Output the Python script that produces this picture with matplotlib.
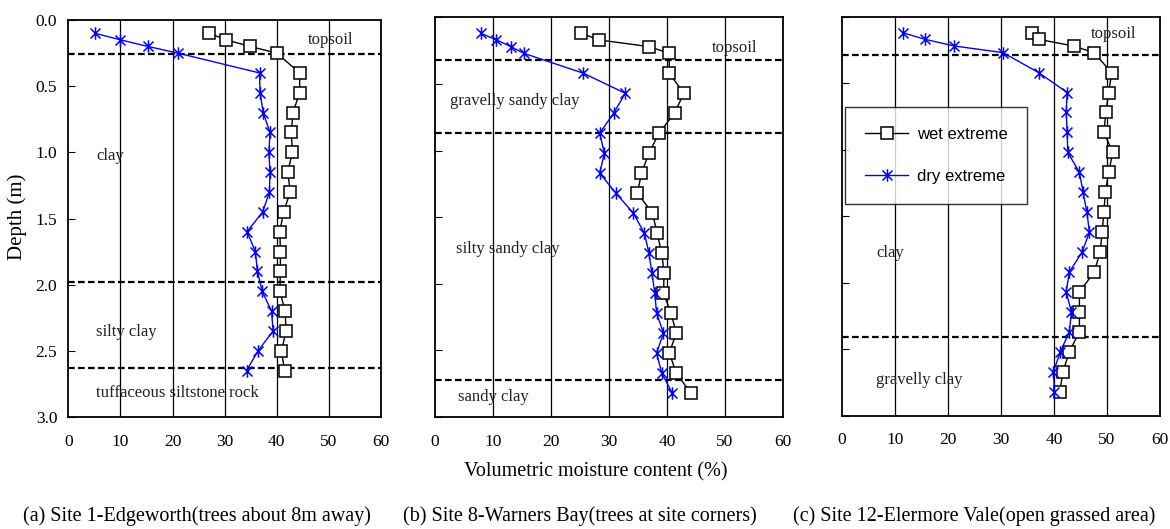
import matplotlib
matplotlib.use('Agg')
import matplotlib.pyplot as plt
from matplotlib.path import Path

plt.rcParams['font.family'] = ['Liberation Serif', 'DejaVu Serif']

# depths (m) and moisture content (%)
depth1 = [0.10, 0.15, 0.20, 0.25, 0.40, 0.55, 0.70, 0.85, 1.00, 1.15,
          1.30, 1.45, 1.60, 1.75, 1.90, 2.05, 2.20, 2.35, 2.50, 2.65]
wet1 = [27.0, 30.3, 34.9, 40.0, 44.4, 44.4, 43.1, 42.8, 43.0, 42.1,
        42.6, 41.3, 40.6, 40.7, 40.7, 40.6, 41.6, 41.8, 40.9, 41.5]
dry1 = [5.1, 10.0, 15.3, 21.0, 36.7, 36.8, 37.4, 38.7, 38.5, 38.7,
        38.6, 37.3, 34.3, 35.9, 36.3, 37.2, 39.0, 39.3, 36.4, 34.2]

depth2 = [0.12, 0.17, 0.22, 0.27, 0.42, 0.57, 0.72, 0.87, 1.02, 1.17, 1.32,
          1.47, 1.62, 1.77, 1.92, 2.07, 2.22, 2.37, 2.52, 2.67, 2.82]
wet2 = [25.2, 28.3, 36.9, 40.4, 40.4, 42.9, 41.3, 38.6, 36.9, 35.6, 34.9,
        37.5, 38.3, 39.1, 39.5, 39.4, 40.7, 41.6, 40.4, 41.6, 44.1]
dry2 = [7.9, 10.6, 13.1, 15.3, 25.6, 32.8, 30.8, 28.4, 29.2, 28.4, 31.2,
        34.2, 36.1, 36.9, 37.4, 37.9, 38.2, 39.4, 38.2, 39.1, 40.9]

depth3 = [0.12, 0.17, 0.22, 0.27, 0.42, 0.57, 0.72, 0.87, 1.02, 1.17, 1.32,
          1.47, 1.62, 1.77, 1.92, 2.07, 2.22, 2.37, 2.52, 2.67, 2.82]
wet3 = [35.8, 37.1, 43.7, 47.5, 50.9, 50.3, 49.8, 49.4, 51.1, 50.3, 49.7,
        49.4, 49.1, 48.7, 47.6, 44.8, 44.8, 44.8, 42.9, 41.7, 41.1]
dry3 = [11.5, 15.7, 21.2, 30.4, 37.1, 42.5, 42.3, 42.5, 42.6, 44.8, 45.5,
        46.2, 46.7, 45.3, 42.9, 42.3, 43.3, 42.9, 41.2, 39.9, 40.1]

# soil layer boundaries (m)
layers1 = [0.26, 1.98, 2.63]
layers2 = [0.32, 0.87, 2.72]
layers3 = [0.29, 2.41]

# soil layer names and where they sit (moisture, depth)
soil1 = ['topsoil', 'clay', 'silty clay', 'tuffaceous siltstone rock']
soil1_pos = [(46.0, 0.15), (5.4, 1.03), (5.4, 2.36), (5.4, 2.82)]
soil2 = ['topsoil', 'gravelly sandy clay', 'silty sandy clay', 'sandy clay']
soil2_pos = [(47.8, 0.23), (2.6, 0.63), (3.6, 1.74), (3.9, 2.85)]
soil3 = ['topsoil', 'clay', 'gravelly clay']
soil3_pos = [(46.9, 0.13), (6.5, 1.78), (6.5, 2.73)]

captions = ['(a) Site 1-Edgeworth(trees about 8m away)',
            '(b) Site 8-Warners Bay(trees at site corners)',
            '(c) Site 12-Elermore Vale(open grassed area)']

xticks = [0, 10, 20, 30, 40, 50, 60]
yticks = [0.0, 0.5, 1.0, 1.5, 2.0, 2.5, 3.0]

# excel style asterisk: vertical bar plus an X
star = Path([(0, -1), (0, 1), (-0.8, -0.8), (0.8, 0.8), (-0.8, 0.8), (0.8, -0.8)],
            [Path.MOVETO, Path.LINETO, Path.MOVETO, Path.LINETO, Path.MOVETO, Path.LINETO])

fig = plt.figure(figsize=(11.7, 5.29), dpi=100)
boxes = [[0.0584, 0.2117, 0.2672, 0.7505],
         [0.3718, 0.2117, 0.2974, 0.7556],
         [0.7194, 0.2142, 0.2721, 0.7542]]

panels = [(depth1, wet1, dry1, layers1, soil1, soil1_pos),
          (depth2, wet2, dry2, layers2, soil2, soil2_pos),
          (depth3, wet3, dry3, layers3, soil3, soil3_pos)]

for i, (box, (depth, wet, dry, lays, soil, soil_pos)) in enumerate(zip(boxes, panels)):
    ax = fig.add_axes(box)
    for gx in xticks[1:-1]:
        ax.axvline(gx, color='black', lw=0.9, zorder=1)
    for d in lays:
        ax.axhline(d, color='black', lw=1.6, ls=(0, (3, 1.5)), zorder=2)
    ax.plot(wet, depth, color='black', lw=1.0, marker='s', ms=8, mfc='white',
            mec='black', mew=1.1, label='wet extreme', zorder=3)
    ax.plot(dry, depth, color='blue', lw=1.0, marker=star, ms=9, mec='blue',
            mew=1.1, label='dry extreme', zorder=4)
    for name, (tx, ty) in zip(soil, soil_pos):
        ax.text(tx, ty, name, fontsize=12, va='center', ha='left', color='#222222', zorder=5)

    ax.set_xlim(0, 60)
    ax.set_ylim(3.0, 0.0)
    ax.set_xticks(xticks)
    ax.set_yticks(yticks)
    ax.tick_params(axis='x', length=0, pad=12, labelsize=12.5)
    ax.tick_params(axis='y', direction='in', length=5, pad=8, labelsize=12.5)
    if i == 0:
        ax.set_yticklabels(['%.1f' % v for v in yticks])
    else:
        ax.set_yticklabels([])
    for s in ax.spines.values():
        s.set_linewidth(1.3)
        s.set_color('black')

    if i == 2:
        leg = ax.legend(loc='upper left', bbox_to_anchor=(0.01, 0.773), frameon=True,
                        fancybox=False, edgecolor='black', labelspacing=1.6,
                        borderpad=1.2, borderaxespad=0, handlelength=2.6,
                        handletextpad=0.5,
                        prop={'family': 'Liberation Sans', 'size': 12})
        leg.get_frame().set_linewidth(1.0)
        leg.set_zorder(6)

fig.text(0.0145, 0.59, 'Depth (m)', rotation=90, ha='center', va='center', fontsize=15)
fig.text(0.509, 0.108, 'Volumetric moisture content (%)', ha='center', va='center', fontsize=14.5)
for cx, cap in zip([0.168, 0.496, 0.833], captions):
    fig.text(cx, 0.025, cap, ha='center', va='center', fontsize=14.5)

fig.savefig('out.png', dpi=100)
